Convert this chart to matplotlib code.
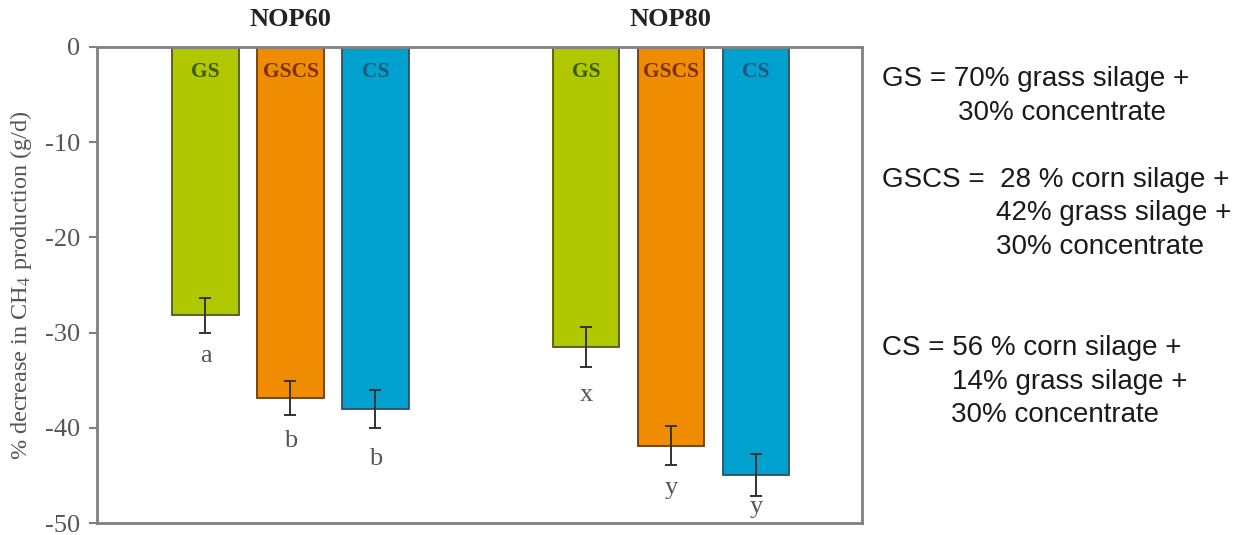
import matplotlib
matplotlib.use("Agg")
import matplotlib.pyplot as plt
import numpy as np

groups = ["NOP60", "NOP80"]
diets = ["GS", "GSCS", "CS"]
values = {"NOP60": [-28.2, -36.9, -38.0], "NOP80": [-31.5, -41.9, -45.0]}
errors = {"NOP60": [1.85, 1.8, 2.0], "NOP80": [2.1, 2.05, 2.2]}
letters = {"NOP60": ["a", "b", "b"], "NOP80": ["x", "y", "y"]}
letter_y = {"NOP60": [-32.5, -41.4, -43.3], "NOP80": [-36.6, -46.3, -48.3]}
yticks = [0, -10, -20, -30, -40, -50]

bar_colors = ["#b0c800", "#f08c00", "#00a0cf"]
edge_colors = ["#4f5a10", "#6a3a10", "#2a5068"]
label_colors = ["#3f5a00", "#7a3000", "#1d5878"]

W, H = 1246, 535
plt.rcParams['mathtext.fontset'] = 'stix'
fig = plt.figure(figsize=(W / 100, H / 100), dpi=100)
ax = fig.add_axes([97 / W, 1 - 523 / H, (862 - 97) / W, (523 - 47) / H])

group_centers = [0.0, 4.476]
offsets = [-1.0, 0.0, 1.0]
width = 0.78
serif = "Liberation Serif"

for gi, g in enumerate(groups):
    xs = [group_centers[gi] + o for o in offsets]
    ax.bar(xs, values[g], width=width, color=bar_colors, edgecolor=edge_colors,
           linewidth=1.3, zorder=2)
    ax.errorbar(xs, values[g], yerr=errors[g], fmt='none', ecolor='#333333',
                elinewidth=1.4, capsize=4, capthick=1.4, zorder=3)
    for i, x in enumerate(xs):
        ax.text(x, -2.6, diets[i], ha='center', va='center', fontsize=15.5,
                fontweight='bold', family=serif, color=label_colors[i], zorder=4)
        ax.text(x, letter_y[g][i], letters[g][i], ha='center', va='center',
                fontsize=19, family=serif, color='#555555', zorder=4)
    ax.text(group_centers[gi], 1.0 + 0.058, g, transform=ax.get_xaxis_transform(),
            ha='center', va='center', fontsize=19, fontweight='bold', family=serif,
            color='#222222')

ax.set_xlim(-2.276, 6.724)
ax.set_ylim(-50, 0)
ax.set_yticks(yticks)
ax.set_yticklabels([str(t) for t in yticks], family=serif, fontsize=19, color='#555555')
ax.set_xticks([])
ax.tick_params(axis='y', direction='out', length=6, width=1.5, color='#808080', pad=6)
for s in ax.spines.values():
    s.set_color('#808080')
    s.set_linewidth(2)
ax.set_ylabel(r'% decrease in CH$_4$ production (g/d)', family=serif, fontsize=17.5,
              color='#555555', labelpad=8)

sans = "Liberation Sans"
legend_lines = [
    (882, 79, "GS = 70% grass silage +"),
    (958, 113, "30% concentrate"),
    (882, 180, "GSCS =  28 % corn silage +"),
    (996, 213, "42% grass silage +"),
    (996, 247, "30% concentrate"),
    (882, 348, "CS = 56 % corn silage +"),
    (952, 382, "14% grass silage +"),
    (951, 415, "30% concentrate"),
]
for x, y, t in legend_lines:
    fig.text(x / W, 1 - y / H, t, ha='left', va='center', fontsize=20,
             family=sans, color='#1a1a1a')

fig.savefig("out.png", dpi=100)
